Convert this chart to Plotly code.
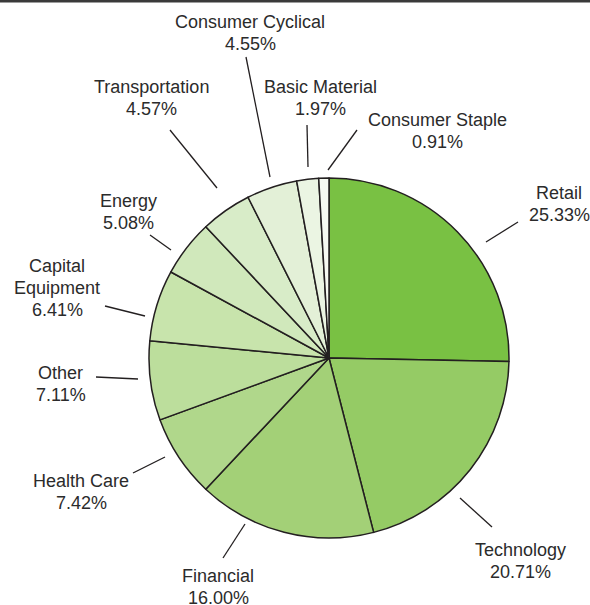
import plotly.graph_objects as go

# ---- data ----
sectors = ["Retail", "Technology", "Financial", "Health Care", "Other",
           "Capital Equipment", "Energy", "Transportation", "Consumer Cyclical",
           "Basic Material", "Consumer Staple"]
weights = [25.33, 20.71, 16.00, 7.42, 7.11, 6.41, 5.08, 4.57, 4.55, 1.97, 0.91]
label_lines = [["Retail"], ["Technology"], ["Financial"], ["Health Care"], ["Other"],
               ["Capital", "Equipment"], ["Energy"], ["Transportation"],
               ["Consumer Cyclical"], ["Basic Material"], ["Consumer Staple"]]

# ---- style / layout ----
colors = ["#79C143", "#95CB65", "#A3D077", "#B0D78B", "#BCDE9C", "#C8E4AC",
          "#D0E8BB", "#D8ECC8", "#E3F0D7", "#EBF5E3", "#F6FAF2"]
W, H = 590, 605
LINE_H = 22
# label block centres (px) and leader-line endpoints (px)
label_pos = [(559, 204), (520, 561), (218, 587), (81, 492), (61, 384),
             (57, 288), (128, 212), (151, 98), (250, 33), (320, 98), (437, 131)]
leaders = [((518, 222), (486, 242)), ((460, 498), (492, 527)),
           ((223, 558), (245, 524)), ((133, 473), (165, 457)),
           ((96, 377), (138, 379)), ((105, 306), (145, 316)),
           ((150, 235), (171, 250)), ((170, 130), (217, 188)),
           ((246, 57), (270, 177)), ((307, 125), (308, 167)),
           ((357, 130), (328, 170))]
cx, cy, r = 329, 358, 180

def px(x):
    return x / W

def py(y):
    return 1 - y / H

fig = go.Figure(go.Pie(
    labels=sectors, values=weights, sort=False, direction="clockwise",
    rotation=0, textinfo="none", hoverinfo="label+percent",
    marker=dict(colors=colors, line=dict(color="#231F20", width=1.5)),
    domain=dict(x=[px(cx - r), px(cx + r)], y=[py(cy + r), py(cy - r)]),
    showlegend=False,
))

annotations = []
for lines, val, (x, y) in zip(label_lines, weights, label_pos):
    all_lines = lines + [f"{val:.2f}%"]
    n = len(all_lines)
    for i, t in enumerate(all_lines):
        ly = y + (i - (n - 1) / 2) * LINE_H
        annotations.append(dict(
            x=px(x), y=py(ly), xref="paper", yref="paper",
            text=t, showarrow=False,
            xanchor="center", yanchor="middle", align="center",
            font=dict(family="Liberation Sans, Arial, sans-serif", size=18, color="#2b2b2b"),
        ))

shapes = []
for (a, b) in leaders:
    shapes.append(dict(type="line", xref="paper", yref="paper",
                       x0=px(a[0]), y0=py(a[1]), x1=px(b[0]), y1=py(b[1]),
                       line=dict(color="#231F20", width=1.3)))
# top rule
shapes.append(dict(type="line", xref="paper", yref="paper",
                   x0=0, x1=1, y0=py(1.2), y1=py(1.2),
                   line=dict(color="#3a3a3a", width=2.5)))

fig.update_layout(
    width=W, height=H,
    margin=dict(l=0, r=0, t=0, b=0),
    paper_bgcolor="white", plot_bgcolor="white",
    annotations=annotations, shapes=shapes,
)

fig.write_html("out.html", config={"displayModeBar": False},
               post_script="document.body.style.margin='0px';document.body.style.overflow='hidden';")
